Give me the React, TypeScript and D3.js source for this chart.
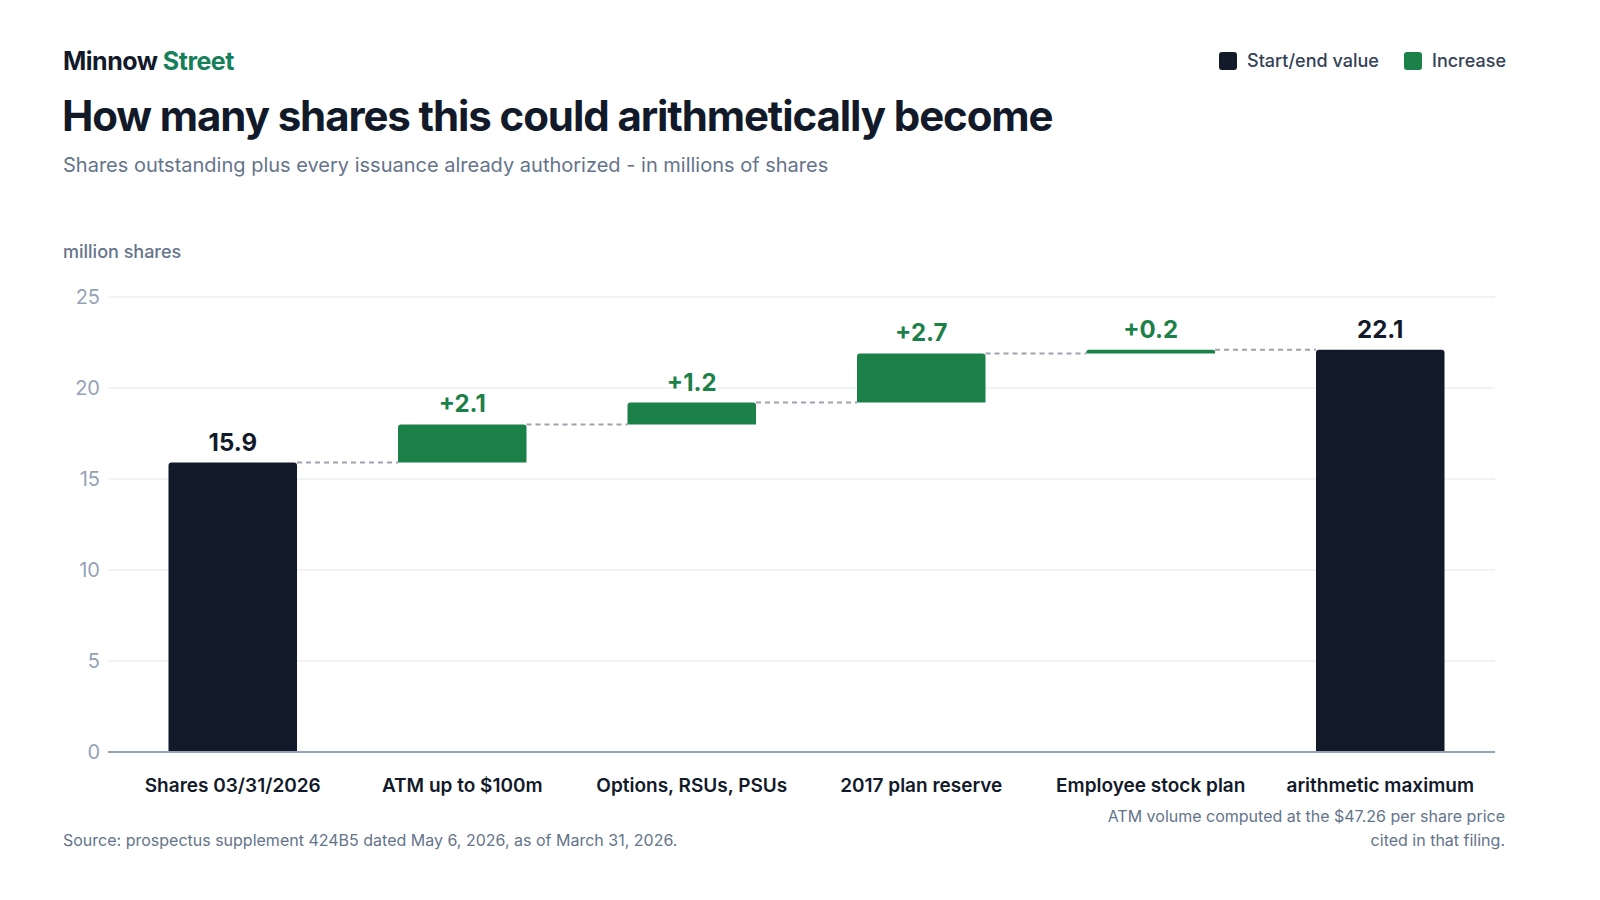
import { useEffect, useRef } from "react";
import * as d3 from "d3";

// Waterfall steps, in millions of shares
const categories = [
  "Shares 03/31/2026",
  "ATM up to $100m",
  "Options, RSUs, PSUs",
  "2017 plan reserve",
  "Employee stock plan",
  "arithmetic maximum",
];
const stepValues = [15.9, 2.1, 1.2, 2.7, 0.2, 22.1];
const stepKinds = ["total", "increase", "increase", "increase", "increase", "total"];
const valueLabels = ["15.9", "+2.1", "+1.2", "+2.7", "+0.2", "22.1"];
const yTicks = [0, 5, 10, 15, 20, 25];

const DARK = "#121a2a";
const GREEN = "#1c8049";
const FONT = "Inter, 'Noto Sans', sans-serif";

const App = () => {
  const svgRef = useRef<SVGSVGElement>(null);

  useEffect(() => {
    const width = 1600,
      height = 900;
    const svg = d3.select(svgRef.current);
    svg.selectAll("*").remove();
    svg.attr("width", width).attr("height", height).style("font-family", FONT);

    // header
    const brand = svg.append("text").attr("x", 63).attr("y", 70).attr("font-size", 25).attr("font-weight", 700).attr("letter-spacing", "-0.5px");
    brand.append("tspan").attr("fill", DARK).text("Minnow ");
    brand.append("tspan").attr("fill", "#16805a").text("Street");

    svg
      .append("text")
      .attr("x", 62)
      .attr("y", 131)
      .attr("font-size", 42)
      .attr("font-weight", 700)
      .attr("letter-spacing", "-1.1px")
      .attr("fill", DARK)
      .text("How many shares this could arithmetically become");

    svg
      .append("text")
      .attr("x", 63)
      .attr("y", 172)
      .attr("font-size", 20)
      .attr("fill", "#64748b")
      .text("Shares outstanding plus every issuance already authorized - in millions of shares");

    // legend
    const legendItems = [
      { label: "Start/end value", color: DARK, x: 1219 },
      { label: "Increase", color: GREEN, x: 1404 },
    ];
    const legend = svg.append("g");
    legend
      .selectAll("rect")
      .data(legendItems)
      .enter()
      .append("rect")
      .attr("x", (d) => d.x)
      .attr("y", 52)
      .attr("width", 18)
      .attr("height", 18)
      .attr("rx", 3)
      .attr("fill", (d) => d.color);
    legend
      .selectAll("text")
      .data(legendItems)
      .enter()
      .append("text")
      .attr("x", (d) => d.x + 28)
      .attr("y", 67)
      .attr("font-size", 18)
      .attr("font-weight", 500)
      .attr("fill", "#334155")
      .text((d) => d.label);

    // scales
    const plotLeft = 108,
      plotRight = 1495;
    const y = d3.scaleLinear().domain([0, 25]).range([752, 297]);
    const x = d3
      .scaleBand()
      .domain(categories)
      .range([118, plotRight])
      .paddingInner(0.44)
      .paddingOuter(0.22);

    svg
      .append("text")
      .attr("x", 63)
      .attr("y", 258)
      .attr("font-size", 18)
      .attr("font-weight", 500)
      .attr("fill", "#64748b")
      .text("million shares");

    // grid + ticks
    const grid = svg.append("g");
    grid
      .selectAll("line")
      .data(yTicks.filter((t) => t > 0))
      .enter()
      .append("line")
      .attr("x1", plotLeft)
      .attr("x2", plotRight)
      .attr("y1", (d) => y(d))
      .attr("y2", (d) => y(d))
      .attr("stroke", "#e5e7eb")
      .attr("stroke-width", 1);
    grid
      .selectAll("text")
      .data(yTicks)
      .enter()
      .append("text")
      .attr("x", 100)
      .attr("y", (d) => y(d))
      .attr("dy", "0.35em")
      .attr("text-anchor", "end")
      .attr("font-size", 20)
      .attr("fill", "#94a3b8")
      .text((d) => d);

    // compute bar extents
    let running = 0;
    const bars = categories.map((c, i) => {
      const v = stepValues[i];
      let y0: number, y1: number;
      if (stepKinds[i] === "total") {
        y0 = 0;
        y1 = v;
        running = v;
      } else {
        y0 = running;
        y1 = running + v;
        running = y1;
      }
      return { c, y0, y1, kind: stepKinds[i], label: valueLabels[i] };
    });

    // connectors
    const conn = svg.append("g");
    bars.slice(0, -1).forEach((b, i) => {
      const next = bars[i + 1];
      conn
        .append("line")
        .attr("x1", x(b.c)! + x.bandwidth())
        .attr("x2", x(next.c)!)
        .attr("y1", y(b.y1))
        .attr("y2", y(b.y1))
        .attr("stroke", "#9ca3af")
        .attr("stroke-width", 2)
        .attr("stroke-dasharray", "5 4");
    });

    // bars with rounded top corners
    const r = 3;
    svg
      .append("g")
      .selectAll("path")
      .data(bars)
      .enter()
      .append("path")
      .attr("d", (d) => {
        const x0 = x(d.c)!,
          w = x.bandwidth();
        const top = y(d.y1),
          bot = y(d.y0);
        const rr = Math.min(r, (bot - top) / 2);
        return `M${x0},${bot}V${top + rr}Q${x0},${top} ${x0 + rr},${top}H${x0 + w - rr}Q${x0 + w},${top} ${x0 + w},${top + rr}V${bot}Z`;
      })
      .attr("fill", (d) => (d.kind === "total" ? DARK : GREEN));

    // value labels
    svg
      .append("g")
      .selectAll("text")
      .data(bars)
      .enter()
      .append("text")
      .attr("x", (d) => x(d.c)! + x.bandwidth() / 2)
      .attr("y", (d) => y(d.y1) - 12)
      .attr("text-anchor", "middle")
      .attr("font-size", 24)
      .attr("font-weight", 700)
      .attr("fill", (d) => (d.kind === "total" ? DARK : GREEN))
      .text((d) => d.label);

    // baseline
    svg
      .append("line")
      .attr("x1", plotLeft)
      .attr("x2", plotRight)
      .attr("y1", y(0))
      .attr("y2", y(0))
      .attr("stroke", "#94a3b8")
      .attr("stroke-width", 2);

    // category labels
    svg
      .append("g")
      .selectAll("text")
      .data(categories)
      .enter()
      .append("text")
      .attr("x", (d) => x(d)! + x.bandwidth() / 2)
      .attr("y", 792)
      .attr("text-anchor", "middle")
      .attr("font-size", 19)
      .attr("font-weight", 600)
      .attr("fill", DARK)
      .text((d) => d);

    // footer
    svg
      .append("text")
      .attr("x", 63)
      .attr("y", 846)
      .attr("font-size", 16)
      .attr("fill", "#64748b")
      .text("Source: prospectus supplement 424B5 dated May 6, 2026, as of March 31, 2026.");
    const note = svg.append("text").attr("text-anchor", "end").attr("font-size", 16).attr("fill", "#64748b");
    note.append("tspan").attr("x", 1505).attr("y", 822).text("ATM volume computed at the $47.26 per share price");
    note.append("tspan").attr("x", 1505).attr("y", 846).text("cited in that filing.");
  }, []);

  return <svg ref={svgRef} width={1600} height={900} style={{ display: "block", margin: -8 }} />;
};

export default App;
